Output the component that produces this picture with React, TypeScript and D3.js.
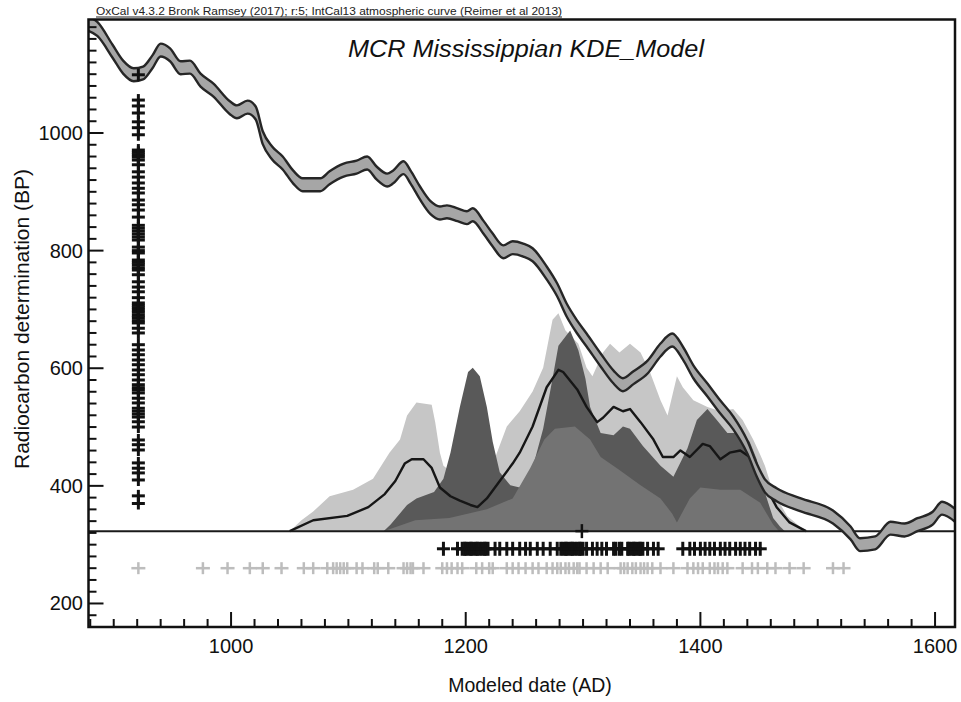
import * as d3 from "d3";

// IntCal13 calibration curve (cal AD, BP, 1 sigma)
const calYears = [878, 886, 899, 908, 917, 925, 933, 940, 948, 957, 965, 974, 985, 999, 1005, 1014, 1021, 1027, 1035, 1044, 1053, 1061, 1076, 1084, 1096, 1107, 1116, 1124, 1133, 1138, 1147, 1153, 1161, 1170, 1178, 1184, 1193, 1201, 1206, 1215, 1223, 1232, 1240, 1249, 1257, 1269, 1278, 1286, 1295, 1303, 1315, 1326, 1334, 1343, 1355, 1366, 1376, 1385, 1394, 1406, 1417, 1428, 1440, 1448, 1455, 1465, 1485, 1513, 1528, 1536, 1549, 1562, 1574, 1585, 1598, 1606, 1617];
const calBP = [1186, 1177, 1139, 1112, 1099, 1102, 1121, 1141, 1133, 1111, 1112, 1090, 1073, 1043, 1036, 1044, 1034, 992, 966, 949, 925, 912, 912, 924, 937, 942, 949, 932, 920, 925, 941, 925, 898, 873, 864, 866, 861, 856, 861, 840, 818, 798, 805, 801, 793, 762, 733, 699, 670, 648, 614, 585, 572, 584, 602, 631, 648, 626, 594, 563, 534, 507, 466, 427, 400, 385, 368, 347, 320, 300, 303, 328, 325, 334, 345, 362, 350];
const calErr = [12, 12, 11, 11, 11, 11, 11, 11, 11, 11, 11, 11, 11, 11, 11, 11, 11, 11, 11, 11, 11, 11, 11, 11, 11, 11, 11, 11, 11, 11, 11, 11, 11, 11, 11, 11, 11, 11, 11, 11, 11, 11, 11, 11, 11, 11, 11, 11, 11, 11, 11, 11, 11, 11, 11, 11, 11, 11, 11, 11, 11, 11, 11, 11, 11, 11, 11, 11, 11, 11, 11, 11, 11, 11, 11, 11, 11];

// summed probability (light grey)
const sumYears = [1050, 1060, 1070, 1084, 1104, 1121, 1135, 1144, 1150, 1158, 1171, 1174, 1178, 1181, 1195, 1212, 1226, 1235, 1246, 1257, 1266, 1274, 1279, 1285, 1296, 1303, 1308, 1317, 1323, 1331, 1340, 1349, 1357, 1366, 1372, 1380, 1385, 1394, 1406, 1417, 1428, 1436, 1445, 1451, 1455, 1462, 1474, 1485, 1492];
const sumDens = [0, 0.05, 0.09, 0.16, 0.19, 0.24, 0.36, 0.42, 0.53, 0.59, 0.58, 0.5, 0.36, 0.3, 0.24, 0.26, 0.35, 0.48, 0.55, 0.64, 0.75, 0.97, 1.0, 0.92, 0.86, 0.75, 0.71, 0.82, 0.86, 0.82, 0.86, 0.82, 0.73, 0.6, 0.53, 0.71, 0.66, 0.6, 0.57, 0.55, 0.56, 0.51, 0.42, 0.35, 0.3, 0.18, 0.07, 0.02, 0];

// KDE upper (dark grey)
const kdeHiYears = [1130, 1136, 1150, 1158, 1173, 1181, 1187, 1195, 1202, 1206, 1212, 1218, 1223, 1229, 1238, 1246, 1257, 1266, 1274, 1279, 1289, 1296, 1302, 1306, 1315, 1326, 1334, 1340, 1351, 1366, 1377, 1389, 1397, 1406, 1414, 1423, 1434, 1442, 1448, 1453, 1462, 1468, 1472];
const kdeHiDens = [0, 0.03, 0.12, 0.15, 0.18, 0.24, 0.36, 0.57, 0.73, 0.75, 0.71, 0.57, 0.41, 0.27, 0.21, 0.2, 0.29, 0.47, 0.7, 0.85, 0.92, 0.83, 0.7, 0.57, 0.45, 0.44, 0.48, 0.47, 0.39, 0.3, 0.25, 0.38, 0.51, 0.56, 0.51, 0.45, 0.45, 0.41, 0.33, 0.21, 0.06, 0.02, 0];

// KDE lower (mid grey)
const kdeLoYears = [1130, 1157, 1186, 1218, 1240, 1255, 1267, 1276, 1293, 1306, 1315, 1331, 1349, 1366, 1376, 1380, 1391, 1400, 1417, 1434, 1451, 1462, 1467];
const kdeLoDens = [0, 0.05, 0.06, 0.1, 0.15, 0.29, 0.42, 0.47, 0.48, 0.42, 0.34, 0.28, 0.21, 0.15, 0.08, 0.04, 0.15, 0.2, 0.19, 0.19, 0.13, 0.03, 0];

// KDE mean (black line)
const kdeYears = [1050, 1070, 1099, 1117, 1131, 1140, 1148, 1154, 1164, 1171, 1178, 1187, 1195, 1204, 1210, 1218, 1229, 1240, 1246, 1257, 1269, 1279, 1283, 1295, 1303, 1312, 1317, 1326, 1334, 1340, 1349, 1360, 1368, 1377, 1383, 1391, 1402, 1408, 1417, 1425, 1434, 1442, 1451, 1465, 1476, 1490];
const kdeDens = [0, 0.05, 0.07, 0.11, 0.17, 0.23, 0.31, 0.33, 0.33, 0.29, 0.2, 0.16, 0.14, 0.12, 0.11, 0.15, 0.23, 0.31, 0.36, 0.48, 0.66, 0.74, 0.73, 0.65, 0.57, 0.5, 0.52, 0.57, 0.55, 0.56, 0.5, 0.42, 0.34, 0.34, 0.37, 0.34, 0.4, 0.39, 0.33, 0.36, 0.37, 0.34, 0.25, 0.11, 0.04, 0];

// radiocarbon determinations (BP), plotted on the y axis
const dateBP = [1099, 1056, 1046, 1034, 1019, 1009, 997, 971, 967, 963, 959, 954, 946, 934, 925, 915, 906, 898, 886, 878, 869, 857, 843, 838, 833, 828, 823, 818, 806, 800, 796, 784, 780, 776, 771, 767, 759, 747, 738, 730, 720, 711, 707, 703, 699, 695, 690, 686, 681, 677, 668, 660, 640, 631, 623, 614, 606, 597, 589, 580, 572, 567, 563, 558, 549, 541, 532, 527, 522, 517, 509, 500, 478, 470, 461, 439, 430, 422, 410, 383, 370];

// modelled (black) and unmodelled (grey) calendar dates
const modelledAD = [1181, 1193, 1197, 1199, 1200, 1202, 1204, 1205, 1207, 1209, 1210, 1212, 1214, 1216, 1217, 1219, 1225, 1229, 1235, 1240, 1246, 1251, 1255, 1261, 1266, 1272, 1278, 1281, 1283, 1285, 1286, 1288, 1290, 1291, 1293, 1295, 1297, 1298, 1300, 1303, 1308, 1312, 1316, 1320, 1326, 1328, 1331, 1333, 1338, 1339, 1341, 1343, 1344, 1346, 1348, 1349, 1351, 1355, 1360, 1364, 1385, 1391, 1395, 1400, 1404, 1408, 1412, 1417, 1421, 1425, 1430, 1434, 1438, 1442, 1447, 1451];
const unmodelledAD = [921, 976, 997, 1016, 1027, 1043, 1062, 1070, 1082, 1087, 1090, 1093, 1096, 1099, 1107, 1112, 1122, 1125, 1134, 1147, 1150, 1153, 1155, 1164, 1180, 1184, 1188, 1193, 1197, 1209, 1214, 1220, 1223, 1235, 1240, 1245, 1251, 1257, 1262, 1269, 1274, 1278, 1281, 1285, 1288, 1292, 1295, 1297, 1303, 1309, 1315, 1321, 1332, 1335, 1338, 1342, 1345, 1349, 1352, 1355, 1359, 1366, 1377, 1389, 1394, 1398, 1402, 1408, 1412, 1415, 1419, 1423, 1436, 1444, 1449, 1457, 1464, 1476, 1488, 1513, 1522];
const boundaryAD = [1299];

const xMajor = [1000, 1200, 1400, 1600];
const yMajor = [200, 400, 600, 800, 1000];

const FONT = "'Liberation Sans', Arial, Helvetica, sans-serif";

const Plus = ({ cx, cy, w, h, color, sw }: any) => (
  <g stroke={color} strokeWidth={sw}>
    <line x1={cx - w} x2={cx + w} y1={cy} y2={cy} />
    <line x1={cx} x2={cx} y1={cy - h} y2={cy + h} />
  </g>
);

export default function App() {
  const x = d3.scaleLinear().domain([878.5, 1617]).range([88.5, 955]);
  const y = d3.scaleLinear().domain([160, 1193]).range([627, 19.5]);
  const baseBP = 323;
  const yBase = y(baseBP);
  const dens = d3.scaleLinear().domain([0, 1]).range([yBase, yBase - 218]);

  const distArea = (years: number[], vals: number[]) =>
    d3.area<number>()
      .x((_, i) => x(years[i]))
      .y0(yBase)
      .y1((d) => dens(d))(vals) || "";

  const bandArea = d3.area<number>()
    .x((_, i) => x(calYears[i]))
    .y0((d, i) => y(d - calErr[i]))
    .y1((d, i) => y(d + calErr[i]))
    .curve(d3.curveMonotoneX)(calBP) || "";
  const bandUpper = d3.line<number>()
    .x((_, i) => x(calYears[i]))
    .y((d, i) => y(d + calErr[i]))
    .curve(d3.curveMonotoneX)(calBP) || "";
  const bandLower = d3.line<number>()
    .x((_, i) => x(calYears[i]))
    .y((d, i) => y(d - calErr[i]))
    .curve(d3.curveMonotoneX)(calBP) || "";
  const kdeLine = d3.line<number>()
    .x((_, i) => x(kdeYears[i]))
    .y((d) => dens(d))(kdeDens) || "";

  const [x0, x1] = x.range();
  const [y0, y1] = [y.range()[1], y.range()[0]];
  const xMinor = d3.range(880, 1617, 20);
  const yMinor = d3.range(160, 1193, 20);
  const dateAD = 921;
  const rowModelled = y(293);
  const rowUnmodelled = y(260);

  return (
    <svg width={961} height={702} style={{ position: "absolute", left: 0, top: 0, background: "#fff" }} fontFamily={FONT}>
      <defs>
        <clipPath id="frame">
          <rect x={x0} y={y0} width={x1 - x0} height={y1 - y0} />
        </clipPath>
      </defs>
      <g clipPath="url(#frame)">
        <path d={distArea(sumYears, sumDens)} fill="#c6c6c6" />
        <path d={distArea(kdeHiYears, kdeHiDens)} fill="#595959" />
        <path d={distArea(kdeLoYears, kdeLoDens)} fill="#737373" />
        <path d={kdeLine} fill="none" stroke="#161616" strokeWidth={2.4} strokeLinejoin="round" />
        <line x1={x0} x2={x1} y1={yBase} y2={yBase} stroke="#1a1a1a" strokeWidth={2} />
        <path d={bandArea} fill="#a6a6a6" />
        <path d={bandUpper} fill="none" stroke="#262626" strokeWidth={2.4} />
        <path d={bandLower} fill="none" stroke="#262626" strokeWidth={2.4} />
      </g>

      {unmodelledAD.map((d, i) => (
        <Plus key={"u" + i} cx={x(d)} cy={rowUnmodelled} w={7} h={6} color="#bdbdbd" sw={2.5} />
      ))}
      {modelledAD.map((d, i) => (
        <Plus key={"m" + i} cx={x(d)} cy={rowModelled} w={6.5} h={7} color="#111" sw={3} />
      ))}
      {boundaryAD.map((d, i) => (
        <Plus key={"b" + i} cx={x(d)} cy={yBase} w={6.5} h={7} color="#111" sw={2.5} />
      ))}
      {dateBP.map((d, i) => (
        <Plus key={"c" + i} cx={x(dateAD)} cy={y(d)} w={6.5} h={6} color="#111" sw={3} />
      ))}

      {/* axes */}
      {xMinor.map((t) => (
        <line key={"xt" + t} x1={x(t)} x2={x(t)} y1={y1} y2={y1 - (xMajor.includes(t) ? 15 : 8)} stroke="#111" strokeWidth={2} />
      ))}
      {yMinor.map((t) => (
        <line key={"yt" + t} x1={x0} x2={x0 + (yMajor.includes(t) ? 15 : 8)} y1={y(t)} y2={y(t)} stroke="#111" strokeWidth={2} />
      ))}
      <rect x={x0} y={y0} width={x1 - x0} height={y1 - y0} fill="none" stroke="#111" strokeWidth={2.5} />

      {xMajor.map((t) => (
        <text key={"xl" + t} x={x(t)} y={653} textAnchor="middle" fontSize={20} fill="#111">{t}</text>
      ))}
      {yMajor.map((t) => (
        <text key={"yl" + t} x={83} y={y(t) + 7} textAnchor="end" fontSize={20} fill="#111">{t}</text>
      ))}

      <text x={530} y={692} textAnchor="middle" fontSize={19.5} fill="#111">Modeled date (AD)</text>
      <text transform="translate(29,319) rotate(-90)" textAnchor="middle" fontSize={21} fill="#111">Radiocarbon determination (BP)</text>
      <text x={526} y={57} textAnchor="middle" fontSize={23} fontStyle="italic" fill="#111" textLength={356} lengthAdjust="spacingAndGlyphs">MCR Mississippian KDE_Model</text>
      <text x={96} y={14.5} fontSize={11} fill="#222" textLength={466} lengthAdjust="spacingAndGlyphs">OxCal v4.3.2 Bronk Ramsey (2017); r:5; IntCal13 atmospheric curve (Reimer et al 2013)</text>
      <line x1={96} x2={562} y1={17} y2={17} stroke="#222" strokeWidth={1} />
    </svg>
  );
}
